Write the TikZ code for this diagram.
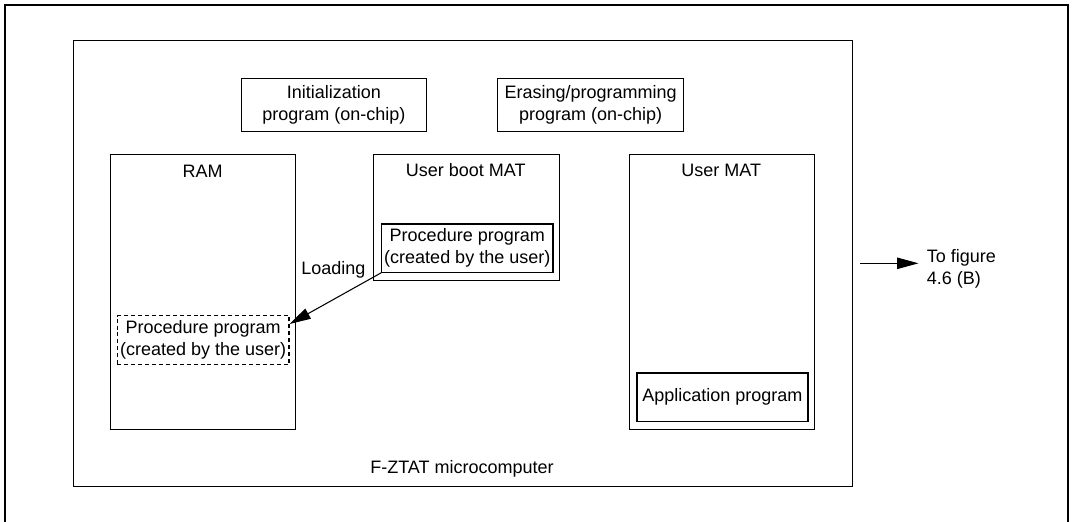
\documentclass[tikz,border=0pt]{standalone}
\usepackage{fontspec}
\setmainfont{Liberation Sans}
\usetikzlibrary{arrows.meta,calc}
\begin{document}
\begin{tikzpicture}[x=0.75pt,y=-0.75pt,
  every node/.style={font=\fontsize{13.5pt}{16.3pt}\selectfont},
  box/.style={draw, line width=0.9pt, inner sep=0pt, anchor=north west, align=center},
  dashbox/.style={box, dash pattern=on 3pt off 2.2pt},
  lbl/.style={anchor=base, inner sep=0pt},
  arr/.style={line width=0.8pt, -{Triangle[length=16pt,width=8.5pt]}}
]
\useasboundingbox (0,0) rectangle (1073,521);

% frames
\node[box, line width=1.7pt, minimum width=797.25pt, minimum height=390pt] (frame) at (4,4) {};
\node[box, line width=0.8pt, minimum width=584.25pt, minimum height=334.3pt] (mcu) at (72.7,40) {};
\node[lbl] (mculbl) at (462,473.3) {F-ZTAT microcomputer};

% on-chip programs
\node[box, minimum width=139pt, minimum height=39.5pt] (init) at (240.7,78)
  {Initialization\\program (on-chip)};
\node[box, minimum width=139.5pt, minimum height=39.75pt] (erase) at (497,78)
  {Erasing/programming\\program (on-chip)};

% memory areas
\node[box, minimum width=138.75pt, minimum height=206.25pt] (ram) at (110,154) {};
\node[lbl] (ramlbl) at (202.5,177.7) {RAM};
\node[box, minimum width=139.7pt, minimum height=94.5pt] (uboot) at (372.7,154) {};
\node[lbl] (ubootlbl) at (465.8,176.7) {User boot MAT};
\node[box, minimum width=139pt, minimum height=206.25pt] (umat) at (628.7,154) {};
\node[lbl] (umatlbl) at (721.3,176.7) {User MAT};

% programs inside the memory areas
\node[box, minimum width=128.5pt, minimum height=36.3pt] (proc) at (381,223.3)
  {Procedure program\\(created by the user)};
\node[dashbox, minimum width=128.7pt, minimum height=36.75pt] (copy) at (116.7,315)
  {Procedure program\\(created by the user)};
\node[box, minimum width=128.25pt, minimum height=36.5pt] (app) at (636.3,372.3)
  {Application program};

% loading into RAM
\node[lbl] (loadlbl) at (333.3,274) {Loading};
\draw[arr] (proc.south west) -- ($(copy.north east)!0.18!(copy.south east)$);

% continuation
\coordinate (next) at (860,263.3);
\node[anchor=west, align=left, inner sep=0pt] (tofig) at (926.5,268.5) {To figure\\4.6 (B)};
\draw[arr] (next) -- ($(tofig.west |- next)+(-8,0)$);
\end{tikzpicture}
\end{document}
